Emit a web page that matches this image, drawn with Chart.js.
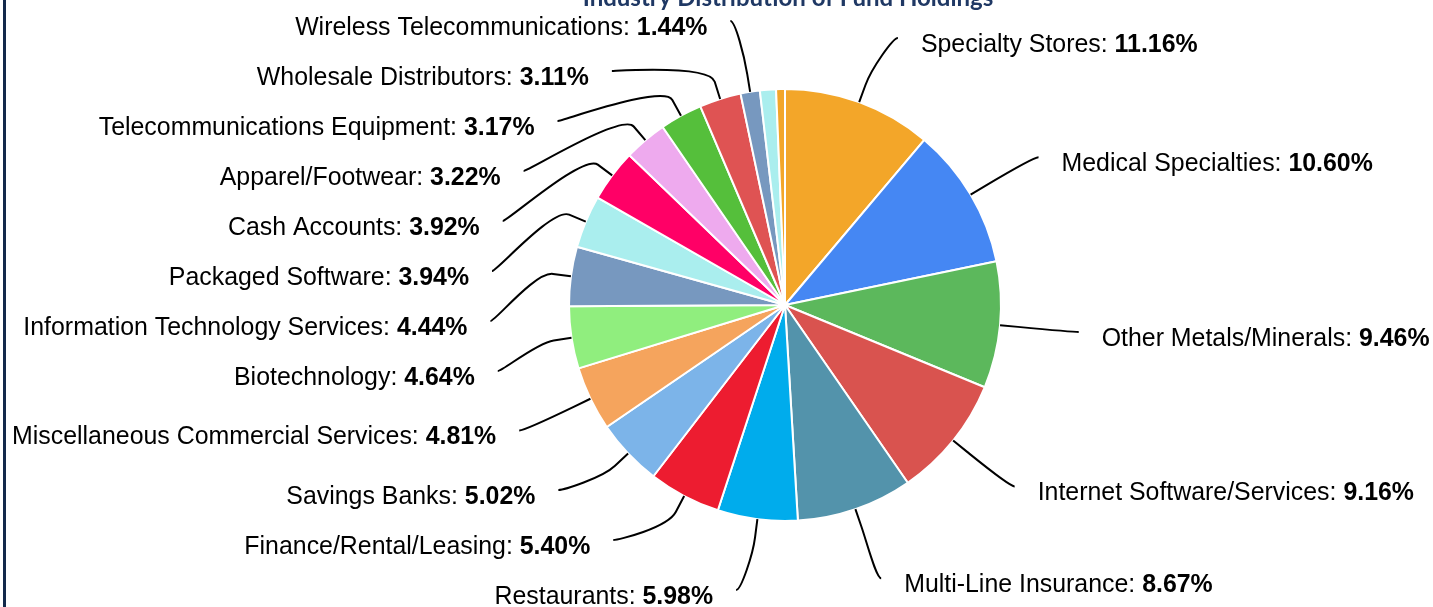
<!DOCTYPE html>
<html>
<head>
<meta charset="utf-8">
<script src="https://cdn.jsdelivr.net/npm/chart.js@4.4.0/dist/chart.umd.min.js"></script>
<style>
    html, body { margin: 0; padding: 0; background: #fff; overflow: hidden; }
    #wrap { position: relative; width: 1433px; height: 607px; }
    #edge { position: absolute; left: 3px; top: 0; width: 3px; height: 607px; background: #13294b; }
</style>
</head>
<body>
<div id="wrap">
    <canvas id="myChartPie" width="1433" height="607"></canvas>
    <div id="edge"></div>
</div>
<script>
const titulo = 'Industry Distribution of Fund Holdings';

const categorias = [
    'Specialty Stores', 'Medical Specialties', 'Other Metals/Minerals', 'Internet Software/Services',
    'Multi-Line Insurance', 'Restaurants', 'Finance/Rental/Leasing', 'Savings Banks',
    'Miscellaneous Commercial Services', 'Biotechnology', 'Information Technology Services',
    'Packaged Software', 'Cash Accounts', 'Apparel/Footwear', 'Telecommunications Equipment',
    'Wholesale Distributors', 'Wireless Telecommunications', 'Other', 'Unclassified'
];
const valores = [11.16, 10.60, 9.46, 9.16, 8.67, 5.98, 5.40, 5.02, 4.81, 4.64, 4.44, 3.94, 3.92, 3.22, 3.17, 3.11, 1.44, 1.20, 0.66];
const cores = [
    '#f3a629', '#4587f3', '#5cb85c', '#d9534f', '#5393ab', '#00acec', '#ed1c30', '#7cb4e9',
    '#f5a45d', '#90ee7e', '#7798bf', '#aaeeee', '#ff0066', '#eeaaee', '#55bf3b', '#df5353',
    '#7798bf', '#aaeeee', '#f3a629'
];
// slices below this get no outside label
const minRotulo = 1.4;

const fonteTam = 24.9;
const fonte = '"Liberation Sans", Arial, sans-serif';

function distribuir(lista, topo, base, passo){
    lista.sort(function(a, b){ return a.y - b.y; });
    for(let k = 0; k < lista.length; k++){
        let min = k ? lista[k - 1].y + passo : topo;
        lista[k].y = Math.max(lista[k].y, min);
    }
    for(let k = lista.length - 1; k >= 0; k--){
        let max = k < lista.length - 1 ? lista[k + 1].y - passo : base;
        lista[k].y = Math.min(lista[k].y, max);
    }
}

const rotulosPlugin = {
    id: 'rotulos',
    afterDatasetsDraw: function(chart){
        const ctx = chart.ctx;
        const arcs = chart.getDatasetMeta(0).data;
        // labels sit on an ellipse round the pie
        const Rx = 295, Ry = 289, quebra = 18, gap = 23;
        let lados = {left: [], right: []};

        arcs.forEach(function(arc, i){
            if(valores[i] < minRotulo) return;
            const p = arc.getProps(['x', 'y', 'startAngle', 'endAngle', 'outerRadius'], true);
            const ang = (p.startAngle + p.endAngle) / 2;
            const item = {
                i: i, cos: Math.cos(ang), sin: Math.sin(ang),
                cx: p.x, cy: p.y, r: p.outerRadius,
                y: p.y + Math.sin(ang) * Ry
            };
            item.lado = item.cos >= 0 ? 'right' : 'left';
            lados[item.lado].push(item);
        });

        distribuir(lados.left, 21, 590, 50);
        distribuir(lados.right, 38, 590, 50);

        ctx.save();
        ['left', 'right'].forEach(function(lado){
            lados[lado].forEach(function(it){
                const t = (it.y - it.cy) / Ry;
                const dx = Rx * Math.sqrt(Math.max(1 - t * t, 0));
                const lx = lado === 'right' ? it.cx + dx : it.cx - dx;
                const ly = it.y;
                const baseX = it.cx + it.cos * it.r, baseY = it.cy + it.sin * it.r;
                const brX = it.cx + it.cos * (it.r + quebra), brY = it.cy + it.sin * (it.r + quebra);

                ctx.beginPath();
                ctx.moveTo(lx, ly);
                ctx.bezierCurveTo(lx + (lado === 'right' ? -5 : 5), ly, 2 * brX - baseX, 2 * brY - baseY, brX, brY);
                ctx.lineTo(baseX, baseY);
                ctx.lineWidth = 2;
                ctx.strokeStyle = '#000';
                ctx.stroke();

                const nome = categorias[it.i] + ': ';
                const val = valores[it.i].toFixed(2) + '%';
                ctx.font = fonteTam + 'px ' + fonte;
                const w1 = ctx.measureText(nome).width;
                ctx.font = 'bold ' + fonteTam + 'px ' + fonte;
                const w2 = ctx.measureText(val).width;
                const tx = lado === 'right' ? lx + gap : lx - gap - w1 - w2;
                ctx.textAlign = 'left';
                ctx.textBaseline = 'alphabetic';
                ctx.fillStyle = '#000';
                ctx.font = fonteTam + 'px ' + fonte;
                ctx.fillText(nome, tx, ly + 14);
                ctx.font = 'bold ' + fonteTam + 'px ' + fonte;
                ctx.fillText(val, tx + w1, ly + 14);
            });
        });

        // title sits partly above the visible area
        ctx.font = 'bold 24px Lato, sans-serif';
        ctx.fillStyle = '#1f3864';
        ctx.textAlign = 'center';
        ctx.fillText(titulo, 788, 6);
        ctx.restore();
    }
};

let canvas = document.getElementById('myChartPie');
let myChartPie = new Chart(canvas, {
    type: 'pie',
    data: {
        labels: categorias,
        datasets: [{
            data: valores,
            backgroundColor: cores,
            borderColor: '#ffffff',
            borderWidth: 2
        }]
    },
    options: {
        responsive: false,
        animation: false,
        devicePixelRatio: 1,
        layout: {
            padding: {left: 568, right: 431, top: 88, bottom: 85}
        },
        plugins: {
            legend: {display: false},
            tooltip: {enabled: true}
        }
    },
    plugins: [rotulosPlugin]
});
</script>
</body>
</html>
